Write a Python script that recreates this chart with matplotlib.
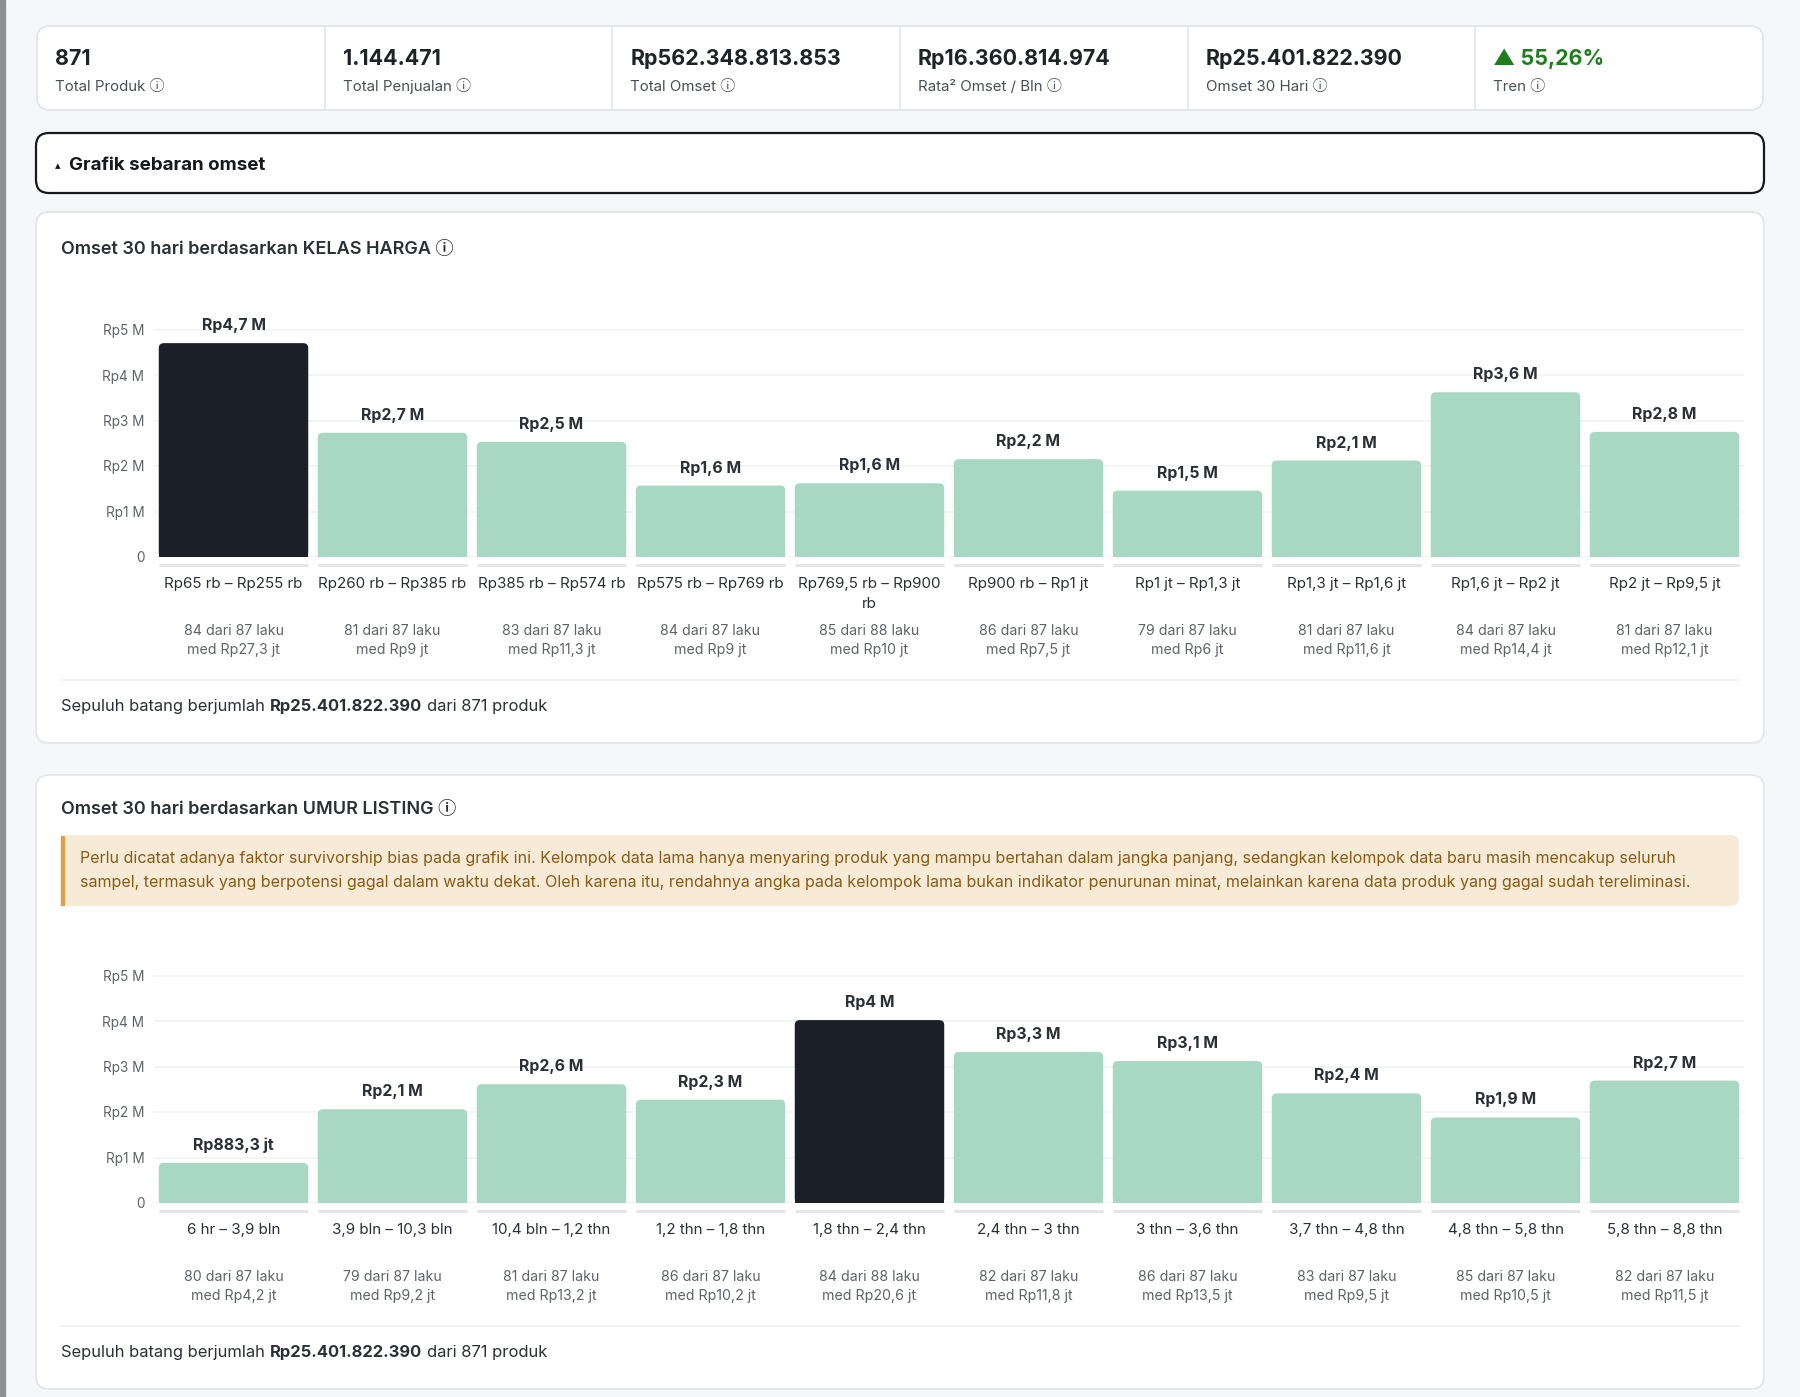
import matplotlib
matplotlib.use("Agg")
import matplotlib.pyplot as plt
from matplotlib.patches import FancyBboxPatch, Rectangle

plt.rcParams['font.family'] = ['Inter', 'DejaVu Sans', 'Noto Sans CJK SC']

W, H, DPI = 1800, 1397, 100

# ---- data ----
stat_values = ['871', '1.144.471', 'Rp562.348.813.853', 'Rp16.360.814.974',
               'Rp25.401.822.390', '▲ 55,26%']
stat_labels = ['Total Produk', 'Total Penjualan', 'Total Omset',
               'Rata² Omset / Bln', 'Omset 30 Hari', 'Tren']

harga_cats = ['Rp65 rb – Rp255 rb', 'Rp260 rb – Rp385 rb', 'Rp385 rb – Rp574 rb',
              'Rp575 rb – Rp769 rb', 'Rp769,5 rb – Rp900\nrb', 'Rp900 rb – Rp1 jt',
              'Rp1 jt – Rp1,3 jt', 'Rp1,3 jt – Rp1,6 jt', 'Rp1,6 jt – Rp2 jt',
              'Rp2 jt – Rp9,5 jt']
harga_vals = [4.70, 2.73, 2.53, 1.57, 1.62, 2.15, 1.46, 2.12, 3.62, 2.75]
harga_txt = ['Rp4,7 M', 'Rp2,7 M', 'Rp2,5 M', 'Rp1,6 M', 'Rp1,6 M', 'Rp2,2 M',
             'Rp1,5 M', 'Rp2,1 M', 'Rp3,6 M', 'Rp2,8 M']
harga_laku = ['84 dari 87 laku', '81 dari 87 laku', '83 dari 87 laku', '84 dari 87 laku',
              '85 dari 88 laku', '86 dari 87 laku', '79 dari 87 laku', '81 dari 87 laku',
              '84 dari 87 laku', '81 dari 87 laku']
harga_med = ['med Rp27,3 jt', 'med Rp9 jt', 'med Rp11,3 jt', 'med Rp9 jt', 'med Rp10 jt',
             'med Rp7,5 jt', 'med Rp6 jt', 'med Rp11,6 jt', 'med Rp14,4 jt', 'med Rp12,1 jt']

umur_cats = ['6 hr – 3,9 bln', '3,9 bln – 10,3 bln', '10,4 bln – 1,2 thn',
             '1,2 thn – 1,8 thn', '1,8 thn – 2,4 thn', '2,4 thn – 3 thn',
             '3 thn – 3,6 thn', '3,7 thn – 4,8 thn', '4,8 thn – 5,8 thn',
             '5,8 thn – 8,8 thn']
umur_vals = [0.883, 2.06, 2.61, 2.27, 4.02, 3.32, 3.12, 2.41, 1.88, 2.69]
umur_txt = ['Rp883,3 jt', 'Rp2,1 M', 'Rp2,6 M', 'Rp2,3 M', 'Rp4 M', 'Rp3,3 M',
            'Rp3,1 M', 'Rp2,4 M', 'Rp1,9 M', 'Rp2,7 M']
umur_laku = ['80 dari 87 laku', '79 dari 87 laku', '81 dari 87 laku', '86 dari 87 laku',
             '84 dari 88 laku', '82 dari 87 laku', '86 dari 87 laku', '83 dari 87 laku',
             '85 dari 87 laku', '82 dari 87 laku']
umur_med = ['med Rp4,2 jt', 'med Rp9,2 jt', 'med Rp13,2 jt', 'med Rp10,2 jt',
            'med Rp20,6 jt', 'med Rp11,8 jt', 'med Rp13,5 jt', 'med Rp9,5 jt',
            'med Rp10,5 jt', 'med Rp11,5 jt']

yticks = [0, 1, 2, 3, 4, 5]
ytick_labels = ['0', 'Rp1 M', 'Rp2 M', 'Rp3 M', 'Rp4 M', 'Rp5 M']

note_lines = [
    'Perlu dicatat adanya faktor survivorship bias pada grafik ini. Kelompok data lama hanya '
    'menyaring produk yang mampu bertahan dalam jangka panjang, sedangkan kelompok data baru '
    'masih mencakup seluruh',
    'sampel, termasuk yang berpotensi gagal dalam waktu dekat. Oleh karena itu, rendahnya angka '
    'pada kelompok lama bukan indikator penurunan minat, melainkan karena data produk yang '
    'gagal sudah tereliminasi.',
]
total_txt = 'Rp25.401.822.390'

DARK = '#1a1f28'
GREEN = '#a8d8c3'
TXT = '#2b2f36'
GRAY = '#5f6368'

fig = plt.figure(figsize=(W / DPI, H / DPI), dpi=DPI)
fig.patch.set_facecolor('#f6f7f9')
bg = fig.add_axes([0, 0, 1, 1])
bg.set_xlim(0, W)
bg.set_ylim(H, 0)
bg.axis('off')
renderer = fig.canvas.get_renderer()


def box(x0, y0, x1, y1, fc='white', ec='#e3e5e8', lw=1.3, r=13):
    bg.add_patch(FancyBboxPatch((x0, y0), x1 - x0, y1 - y0,
                                boxstyle=f'round,pad=0,rounding_size={r}',
                                fc=fc, ec=ec, lw=lw))


bg.add_patch(Rectangle((0, 0), 5, H, color='#8d8f93'))

# stats row
box(37, 26, 1763, 110)
cell_w = (1763 - 37) / 6
for i in range(6):
    x = 37 + i * cell_w
    if i > 0:
        bg.plot([x, x], [27, 109], color='#e3e5e8', lw=1.2)
    col = '#1e7d1e' if i == 5 else '#1f2328'
    bg.text(x + 18, 59, stat_values[i], fontsize=15.4, fontweight='bold', color=col,
            va='center', ha='left')
    bg.text(x + 18, 91, stat_labels[i] + ' ⓘ', fontsize=10.8, color='#4a4f57',
            va='baseline', ha='left')

# collapse header
box(36, 133, 1764, 193, ec='#16181c', lw=1.6)
bg.text(55, 166, '▴', fontsize=8, color='#16181c', va='center')
bg.text(69, 165, 'Grafik sebaran omset', fontsize=13.5, fontweight='bold',
        color='#16181c', va='center')


def footer(y):
    t = bg.text(61, y, 'Sepuluh batang berjumlah', fontsize=11.9, color=TXT, va='center')
    x = 61 + t.get_window_extent(renderer).width + 5
    t = bg.text(x, y, total_txt, fontsize=11.9, fontweight='bold', color=TXT, va='center')
    x += t.get_window_extent(renderer).width + 5
    bg.text(x, y, 'dari 871 produk', fontsize=11.9, color=TXT, va='center')


def chart(zero_y, cats, vals, txt, laku, med, hi):
    unit = 45.5
    top = 5.5
    left, right = 154, 1744
    ax = fig.add_axes([left / W, (H - zero_y) / H, (right - left) / W, top * unit / H])
    ax.set_facecolor('none')
    n = len(vals)
    x = list(range(n))
    colors = [DARK if i == hi else GREEN for i in x]
    # rounded top corners: square lower part from ax.bar, rounded cap patch on top
    xunit = (right - left) / n
    rs = 5 / xunit
    aspect = xunit / unit
    ry = rs * aspect
    ax.bar(x, [v - ry for v in vals], width=0.94, color=colors, zorder=3)
    for i, v in enumerate(vals):
        ax.add_patch(FancyBboxPatch((i - 0.47, 0), 0.94, v,
                                    boxstyle=f'round,pad=0,rounding_size={rs}',
                                    mutation_aspect=aspect, fc=colors[i], ec='none',
                                    zorder=3))
    ax.set_xlim(-0.5, n - 0.5)
    ax.set_ylim(0, top)
    ax.set_yticks(yticks, ytick_labels)
    ax.yaxis.grid(True, color='#f1f2f4', lw=1.2, zorder=0)
    ax.set_xticks(x, cats, linespacing=1.55)
    ax.tick_params(axis='y', length=0, pad=7, labelsize=9.8, labelcolor=GRAY)
    ax.tick_params(axis='x', length=0, pad=14.5, labelsize=10.9, labelcolor=TXT)
    for s in ax.spines.values():
        s.set_visible(False)
    for i, v in enumerate(vals):
        ax.plot([i - 0.47, i + 0.47], [-8 / unit] * 2, color='#e3e5e8', lw=2.2,
                clip_on=False, solid_capstyle='butt')
        ax.annotate(txt[i], (i, v), xytext=(0, 10), textcoords='offset pixels',
                    ha='center', va='bottom', fontsize=11.4, fontweight='bold', color=TXT)
        ax.annotate(laku[i], (i, 0), xytext=(0, -74), textcoords='offset pixels',
                    ha='center', va='center', fontsize=10.2, color=GRAY, annotation_clip=False)
        ax.annotate(med[i], (i, 0), xytext=(0, -93), textcoords='offset pixels',
                    ha='center', va='center', fontsize=10.2, color=GRAY, annotation_clip=False)
    return ax


# card 1
box(36, 212, 1764, 743)
bg.text(61, 249, 'Omset 30 hari berdasarkan KELAS HARGA ⓘ', fontsize=13,
        fontweight='semibold', color='#2b2f36', va='center')
chart(557, harga_cats, harga_vals, harga_txt, harga_laku, harga_med, 0)
bg.plot([61, 1739], [680, 680], color='#eef0f2', lw=1.2)
footer(707)

# card 2
box(36, 775, 1764, 1389)
bg.text(61, 810, 'Omset 30 hari berdasarkan UMUR LISTING ⓘ', fontsize=13,
        fontweight='semibold', color='#2b2f36', va='center')
box(61, 835, 1739, 906, fc='#f7ead6', ec='none', r=8)
bg.add_patch(Rectangle((61, 836), 3, 69, color='#dba24a'))
bg.text(80, 858, note_lines[0], fontsize=11.55, color='#8a5b12', va='center')
bg.text(80, 882, note_lines[1], fontsize=11.55, color='#8a5b12', va='center')
chart(1203, umur_cats, umur_vals, umur_txt, umur_laku, umur_med, 4)
bg.plot([61, 1739], [1326, 1326], color='#eef0f2', lw=1.2)
footer(1353)

fig.savefig('out.png', dpi=DPI, facecolor=fig.get_facecolor())
